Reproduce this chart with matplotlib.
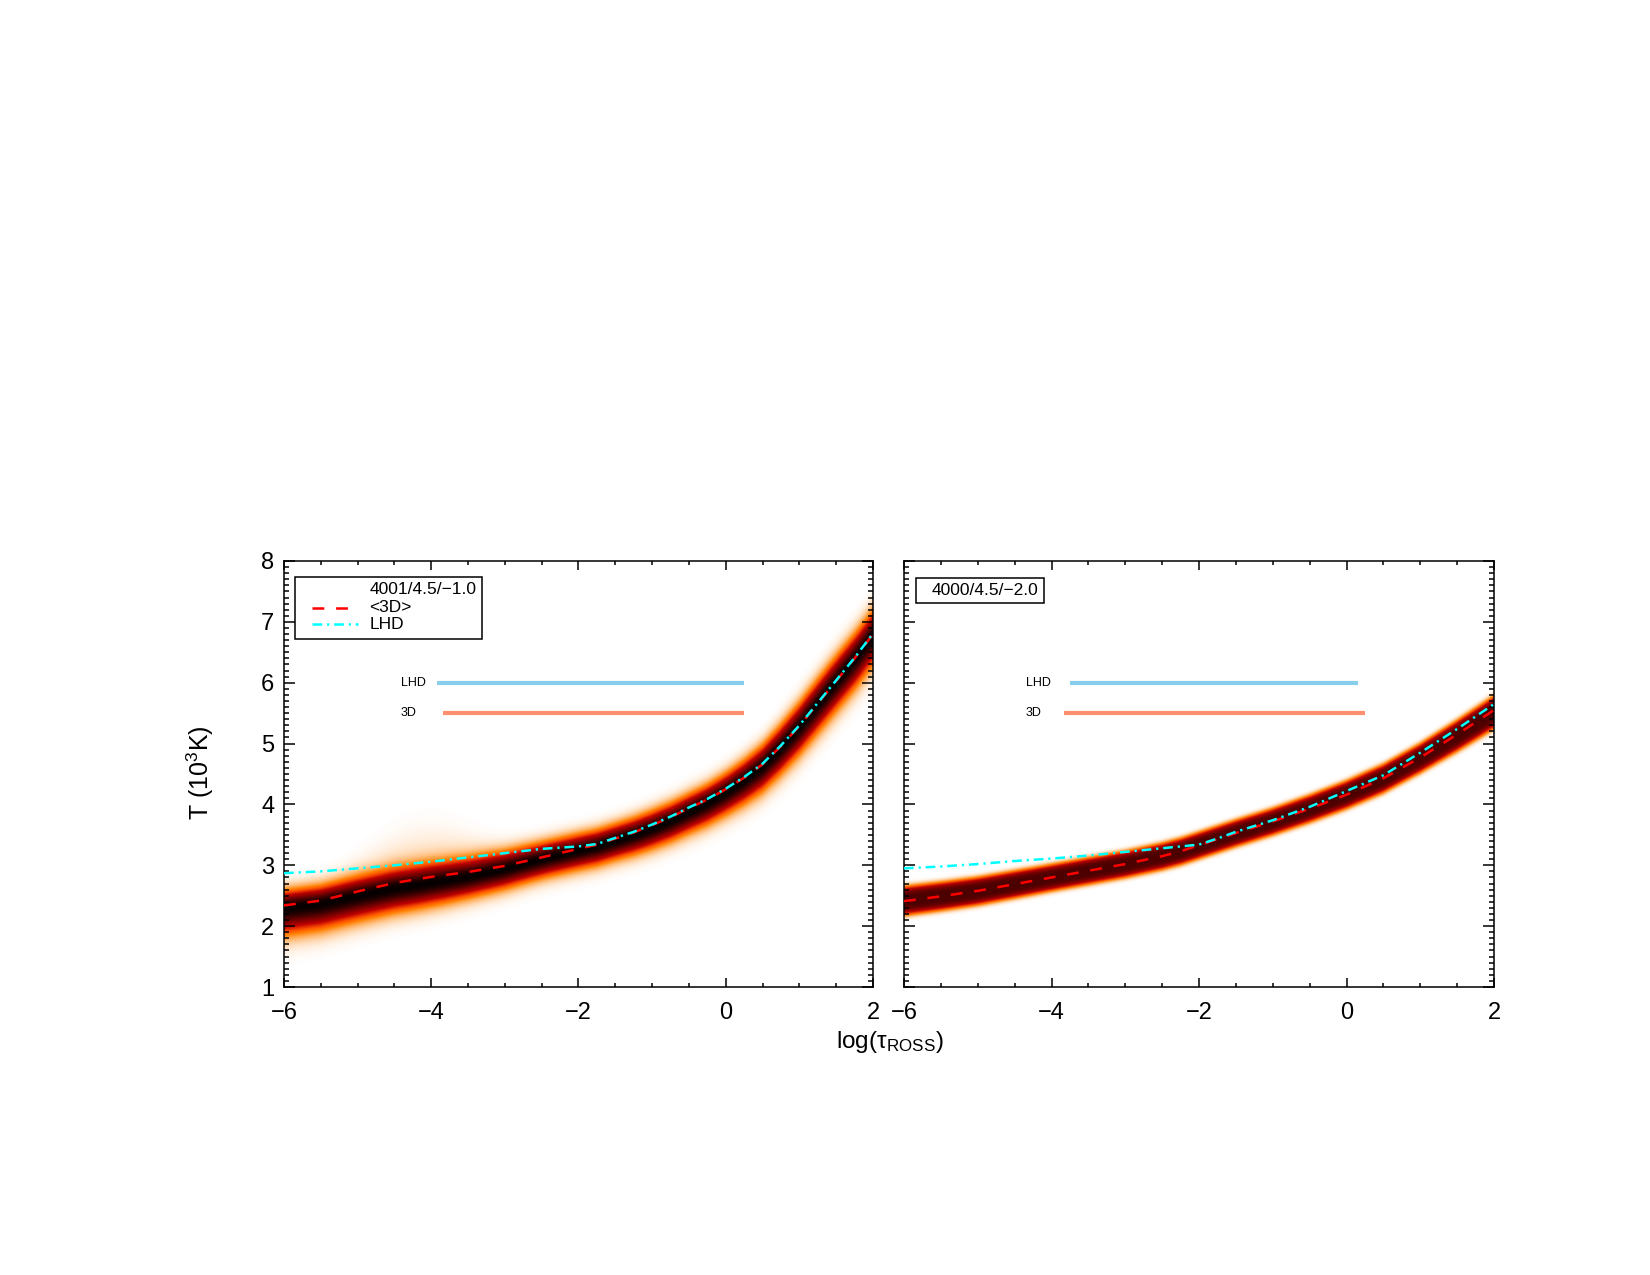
import numpy as np
import matplotlib
matplotlib.use('Agg')
import matplotlib.pyplot as plt
from matplotlib.ticker import MultipleLocator
from matplotlib.patches import Rectangle
from matplotlib.lines import Line2D

plt.rcParams['font.family'] = ['Liberation Sans', 'DejaVu Sans']
plt.rcParams['mathtext.fontset'] = 'custom'
plt.rcParams['mathtext.rm'] = 'Liberation Sans'
plt.rcParams['mathtext.it'] = 'Liberation Sans:italic'
plt.rcParams['lines.scale_dashes'] = False

# ---------------- data ----------------
# Left panel: 4001/4.5/-1.0
left_title = '4001/4.5/\u22121.0'
left_x = [-6, -5.5, -5, -4.5, -4, -3.5, -3, -2.5, -2, -1.75, -1.5, -1.25, -1,
          -0.75, -0.5, -0.25, 0, 0.25, 0.5, 0.75, 1, 1.25, 1.5, 1.75, 2]
left_lhd = [2.87, 2.90, 2.95, 3.00, 3.06, 3.13, 3.20, 3.27, 3.31, 3.35, 3.45, 3.55, 3.67,
            3.80, 3.95, 4.09, 4.26, 4.45, 4.67, 4.97, 5.30, 5.67, 6.04, 6.41, 6.81]
left_3d = [2.34, 2.42, 2.57, 2.71, 2.81, 2.89, 2.99, 3.13, 3.27, 3.34, 3.44, 3.54, 3.66,
           3.79, 3.94, 4.08, 4.25, 4.44, 4.66, 4.96, 5.29, 5.66, 6.03, 6.40, 6.80]

# 3D temperature distribution (cloud): offset of the densest part from <3D>,
# spreads above / below, and faint halo extent above / below
left_cloud_x = [-6, -5.5, -5, -4.5, -4, -3.5, -3, -2.5, -2, -1.5, -1, -0.5, 0, 0.5, 1, 1.5, 2]
left_cloud_off = [-0.05, -0.06, -0.08, -0.10, -0.11, -0.09, -0.06, -0.04, -0.04, -0.05, -0.07,
                  -0.08, -0.07, -0.05, -0.04, -0.03, -0.05]
left_cloud_up = [0.18, 0.18, 0.19, 0.20, 0.20, 0.19, 0.18, 0.17, 0.17, 0.17, 0.18, 0.18, 0.19,
                 0.21, 0.24, 0.25, 0.25]
left_cloud_dn = [0.26, 0.25, 0.24, 0.23, 0.22, 0.20, 0.19, 0.18, 0.18, 0.18, 0.19, 0.20, 0.21,
                 0.24, 0.26, 0.28, 0.28]
left_halo_up = [0.18, 0.22, 0.32, 0.46, 0.50, 0.38, 0.22, 0.19, 0.18, 0.18, 0.19, 0.20, 0.21,
                0.24, 0.27, 0.29, 0.29]
left_halo_dn = [0.34, 0.33, 0.31, 0.29, 0.28, 0.26, 0.24, 0.23, 0.23, 0.23, 0.24, 0.25, 0.27,
                0.30, 0.33, 0.35, 0.35]

# Right panel: 4000/4.5/-2.0
right_title = '4000/4.5/\u22122.0'
right_x = [-6, -5.5, -5, -4.5, -4, -3.5, -3, -2.5, -2.25, -2, -1.75, -1.5, -1, -0.5,
           0, 0.5, 1, 1.5, 2]
right_lhd = [2.95, 2.98, 3.02, 3.07, 3.11, 3.16, 3.22, 3.28, 3.31, 3.34, 3.44, 3.55, 3.74,
             3.96, 4.22, 4.48, 4.85, 5.24, 5.65]
right_3d = [2.41, 2.49, 2.58, 2.69, 2.80, 2.91, 3.02, 3.15, 3.23, 3.33, 3.43, 3.53, 3.72,
            3.93, 4.16, 4.43, 4.77, 5.15, 5.55]
right_cloud_x = [-6, -5, -4, -3, -2, -1, 0, 1, 2]
right_cloud_off = [0.0, -0.01, -0.01, -0.01, -0.01, -0.01, -0.01, -0.02, -0.05]
right_cloud_w = [0.23, 0.22, 0.21, 0.21, 0.21, 0.21, 0.22, 0.23, 0.26]

# horizontal range bars
left_bar_labels = ['LHD', '3D']
left_bar_y = [6.0, 5.5]
left_bar_xmin = [-3.92, -3.84]
left_bar_xmax = [0.25, 0.25]
right_bar_labels = ['LHD', '3D']
right_bar_y = [6.0, 5.5]
right_bar_xmin = [-3.75, -3.83]
right_bar_xmax = [0.16, 0.25]
bar_colors = ['#87ceeb', '#ff8f6e']

xlim = (-6, 2)
ylim = (1, 8)
x_ticks = [-6, -4, -2, 0, 2]
y_ticks = [1, 2, 3, 4, 5, 6, 7, 8]

# ---------------- figure ----------------
fig = plt.figure(figsize=(16.5, 12.75), dpi=100)
axL = fig.add_axes([284 / 1650, 288 / 1275, 589 / 1650, 426 / 1275])
axR = fig.add_axes([904 / 1650, 288 / 1275, 590 / 1650, 426 / 1275])

gx = np.linspace(xlim[0], xlim[1], 640)
gy = np.linspace(ylim[0], ylim[1], 900)
GX, GY = np.meshgrid(gx, gy)


def smooth(v, n=31):
    pad = n // 2
    vp = np.concatenate([np.full(pad, v[0]), v, np.full(pad, v[-1])])
    k = np.ones(n) / n
    return np.convolve(vp, k, mode='valid')


def cloud_left():
    c = np.interp(gx, left_x, left_3d) + smooth(np.interp(gx, left_cloud_x, left_cloud_off))
    su = smooth(np.interp(gx, left_cloud_x, left_cloud_up))
    sd = smooth(np.interp(gx, left_cloud_x, left_cloud_dn))
    hu = smooth(np.interp(gx, left_cloud_x, left_halo_up), 61)
    hd = smooth(np.interp(gx, left_cloud_x, left_halo_dn), 61)
    dT = GY - c[None, :]
    s = np.where(dT > 0, su[None, :], sd[None, :])
    h = np.where(dT > 0, hu[None, :], hd[None, :])
    d = np.exp(-0.5 * (dT / s) ** 2) + 0.13 * np.exp(-0.5 * (dT / h) ** 2)
    return d


def cloud_right():
    c = np.interp(gx, right_x, right_3d) + smooth(np.interp(gx, right_cloud_x, right_cloud_off))
    w = smooth(np.interp(gx, right_cloud_x, right_cloud_w))
    dT = GY - c[None, :]
    d = np.exp(-(np.abs(dT) / w[None, :]) ** 4)
    return d


def style(ax, ylabels=True):
    ax.set_xlim(*xlim)
    ax.set_ylim(*ylim)
    ax.set_xticks(x_ticks)
    ax.set_xticklabels([str(t).replace('-', '\u2212') for t in x_ticks])
    ax.set_yticks(y_ticks)
    if ylabels:
        ax.set_yticklabels([str(t) for t in y_ticks])
    else:
        ax.set_yticklabels([])
    ax.xaxis.set_minor_locator(MultipleLocator(0.5))
    ax.yaxis.set_minor_locator(MultipleLocator(0.1))
    ax.tick_params(which='both', direction='in', top=True, right=True,
                   width=1.1, color='black', labelsize=17)
    ax.tick_params(axis='x', which='major', length=6.5, pad=11)
    ax.tick_params(axis='x', which='minor', length=3.2)
    ax.tick_params(axis='y', which='major', length=8, pad=7)
    ax.tick_params(axis='y', which='minor', length=3.8)
    for sp in ax.spines.values():
        sp.set_linewidth(1.1)


for ax, dens, vmax, xs, l3d, llhd, blab, by, bx0, bx1 in [
        (axL, cloud_left(), 1.15, left_x, left_3d, left_lhd,
         left_bar_labels, left_bar_y, left_bar_xmin, left_bar_xmax),
        (axR, cloud_right(), 1.25, right_x, right_3d, right_lhd,
         right_bar_labels, right_bar_y, right_bar_xmin, right_bar_xmax)]:
    ax.imshow(np.clip(dens / vmax, 0, 1), origin='lower', aspect='auto',
              extent=[xlim[0], xlim[1], ylim[0], ylim[1]], cmap='gist_heat_r',
              vmin=0, vmax=1, interpolation='bilinear', zorder=1)
    ax.plot(xs, l3d, color='#ff0000', lw=1.8, linestyle=(0, (8.5, 8.5)), zorder=3)
    ax.plot(xs, llhd, color='#00ffff', lw=1.8, linestyle=(0, (7, 3.5, 1.6, 3.5)), zorder=4)
    for yv, a, b, col in zip(by, bx0, bx1, bar_colors):
        ax.hlines(yv, a, b, colors=col, lw=3.0, zorder=2)
    style(ax, ylabels=(ax is axL))

# bar labels
for lab, yv in zip(left_bar_labels, left_bar_y):
    axL.text(-4.415, yv, lab, fontsize=9, va='center', ha='left')
for lab, yv in zip(right_bar_labels, right_bar_y):
    axR.text(-4.35, yv, lab, fontsize=9, va='center', ha='left')

# legend box (left)
axL.add_patch(Rectangle((0.0187, 0.817), 0.3169, 0.1455, transform=axL.transAxes,
                        fill=True, facecolor='white', edgecolor='black', lw=1.1, zorder=5))
axL.text(0.1448, 0.932, left_title, transform=axL.transAxes, fontsize=12.5,
         va='center', ha='left', zorder=6)
axL.text(0.1448, 0.8897, '<3D>', transform=axL.transAxes, fontsize=12.5,
         va='center', ha='left', zorder=6)
axL.text(0.1448, 0.852, 'LHD', transform=axL.transAxes, fontsize=12.5,
         va='center', ha='left', zorder=6)
axL.add_line(Line2D([0.047, 0.126], [0.8897, 0.8897], transform=axL.transAxes,
                    color='#ff0000', lw=1.8, linestyle=(0, (8.5, 8.5)), zorder=6))
axL.add_line(Line2D([0.047, 0.126], [0.852, 0.852], transform=axL.transAxes,
                    color='#00ffff', lw=1.8, linestyle=(0, (7, 3.5, 1.6, 3.5)), zorder=6))

# title box (right)
axR.add_patch(Rectangle((0.0203, 0.9007), 0.217, 0.0587, transform=axR.transAxes,
                        fill=True, facecolor='white', edgecolor='black', lw=1.1, zorder=5))
axR.text(0.047, 0.930, right_title, transform=axR.transAxes, fontsize=12.5,
         va='center', ha='left', zorder=6)

# axis labels
fig.text(200 / 1650, 1 - 773 / 1275, 'T (10$^3$K)', rotation=90, ha='center', va='center',
         fontsize=18)
fig.text(890 / 1650, 1 - 1042 / 1275, 'log(\u03c4$_{\\mathrm{ROSS}}$)', ha='center',
         va='center', fontsize=17.5)

fig.savefig('out.png', dpi=100)
